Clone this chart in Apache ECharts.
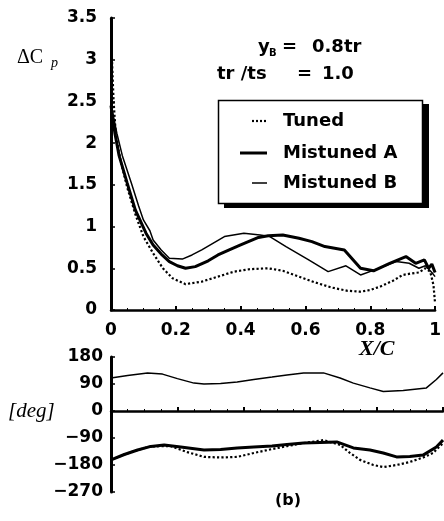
<!DOCTYPE html>
<html>
<head>
<meta charset="utf-8">
<script src="https://cdn.jsdelivr.net/npm/echarts@6/dist/echarts.min.js"></script>
<style>
html,body{margin:0;padding:0;background:#fff;}
#c{width:444px;height:521px;}
</style>
</head>
<body>
<div id="c"></div>
<script>
// ---- Data ----
const seriesNames = ['Tuned', 'Mistuned A', 'Mistuned B'];
const xTicks = [0, 0.2, 0.4, 0.6, 0.8, 1];
const cpTicks = [0, 0.5, 1, 1.5, 2, 2.5, 3, 3.5];
const phaseTicks = [-270, -180, -90, 0, 90, 180];

// Delta Cp, top panel
const xCpTuned = [0, 0.003, 0.008, 0.015, 0.03, 0.05, 0.075, 0.10, 0.13, 0.16, 0.19, 0.23, 0.28, 0.33, 0.38, 0.43, 0.485, 0.53, 0.58, 0.63, 0.68, 0.73, 0.77, 0.80, 0.83, 0.87, 0.90, 0.93, 0.95, 0.97, 0.985, 0.995, 1.0];
const cpTuned  = [3.5, 3.0, 2.5, 2.1, 1.78, 1.47, 1.15, 0.88, 0.68, 0.50, 0.38, 0.31, 0.34, 0.40, 0.46, 0.49, 0.50, 0.47, 0.40, 0.33, 0.27, 0.23, 0.22, 0.24, 0.28, 0.35, 0.42, 0.44, 0.45, 0.50, 0.46, 0.30, 0.08];

const xCpA = [0, 0.005, 0.012, 0.025, 0.05, 0.075, 0.108, 0.13, 0.155, 0.18, 0.205, 0.23, 0.26, 0.30, 0.33, 0.37, 0.40, 0.455, 0.485, 0.53, 0.58, 0.62, 0.66, 0.72, 0.77, 0.81, 0.86, 0.91, 0.94, 0.967, 0.98, 0.99, 1.0];
const cpA  = [2.45, 2.3, 2.12, 1.85, 1.52, 1.2, 0.92, 0.78, 0.67, 0.58, 0.53, 0.50, 0.52, 0.59, 0.66, 0.73, 0.78, 0.87, 0.89, 0.90, 0.86, 0.82, 0.76, 0.72, 0.50, 0.47, 0.56, 0.64, 0.56, 0.60, 0.50, 0.55, 0.45];

const xCpB = [0, 0.006, 0.018, 0.035, 0.063, 0.085, 0.10, 0.12, 0.13, 0.155, 0.18, 0.22, 0.25, 0.28, 0.35, 0.41, 0.46, 0.49, 0.54, 0.61, 0.67, 0.725, 0.77, 0.82, 0.88, 0.92, 0.95, 0.97, 0.99, 1.0];
const cpB  = [2.5, 2.35, 2.12, 1.85, 1.52, 1.25, 1.08, 0.95, 0.84, 0.72, 0.62, 0.61, 0.66, 0.72, 0.88, 0.92, 0.90, 0.88, 0.76, 0.60, 0.46, 0.53, 0.42, 0.49, 0.58, 0.56, 0.50, 0.53, 0.45, 0.40];

// Phase [deg], bottom panel
const xPhTuned = [0, 0.04, 0.08, 0.12, 0.18, 0.23, 0.28, 0.33, 0.38, 0.43, 0.485, 0.53, 0.58, 0.64, 0.69, 0.72, 0.75, 0.79, 0.82, 0.86, 0.90, 0.94, 0.97, 1.0];
const phTuned  = [-163, -145, -130, -118, -117, -137, -153, -155, -153, -140, -127, -117, -107, -97, -113, -140, -163, -180, -187, -180, -170, -155, -140, -107];

const xPhA = [0, 0.04, 0.08, 0.12, 0.16, 0.21, 0.28, 0.33, 0.38, 0.43, 0.485, 0.53, 0.58, 0.63, 0.68, 0.73, 0.78, 0.82, 0.86, 0.90, 0.94, 0.98, 1.0];
const phA  = [-163, -145, -130, -118, -113, -120, -130, -128, -123, -120, -117, -112, -107, -105, -103, -123, -130, -140, -153, -152, -147, -120, -97];

const xPhB = [0, 0.05, 0.11, 0.155, 0.2, 0.25, 0.28, 0.33, 0.38, 0.43, 0.485, 0.53, 0.58, 0.64, 0.69, 0.73, 0.78, 0.82, 0.88, 0.95, 0.98, 1.0];
const phB  = [110, 118, 127, 123, 108, 93, 90, 92, 97, 105, 113, 120, 127, 127, 110, 93, 77, 65, 68, 77, 105, 127];

// ---- Helpers ----
const zip = (xs, ys) => xs.map((x, i) => [x, ys[i]]);
const FONT = 'DejaVu Sans';
const SERIF = 'Liberation Serif';
const lblStyle = {color: '#000', fontFamily: FONT, fontWeight: 'bold', fontSize: 17};

const styles = {
  'Tuned':      {type: 'dotted', width: 2.2},
  'Mistuned A': {type: 'solid',  width: 3},
  'Mistuned B': {type: 'solid',  width: 1.5}
};
function mk(name, data, gi) {
  return {
    name: name, type: 'line', data: data, xAxisIndex: gi, yAxisIndex: gi,
    showSymbol: false, symbol: 'none', smooth: false, silent: true, animation: false,
    lineStyle: Object.assign({color: '#000'}, styles[name]),
    itemStyle: {color: '#000'}
  };
}

// legend drawn as graphic (box with drop shadow, line samples, labels)
const legendRows = [
  {name: seriesNames[0], y: 121, x1: 252, x2: 266},
  {name: seriesNames[1], y: 153, x1: 240, x2: 267},
  {name: seriesNames[2], y: 183, x1: 252, x2: 267}
];
const legendGraphics = [
  {type: 'rect', shape: {x: 224, y: 104, width: 205, height: 104}, style: {fill: '#000'}, silent: true},
  {type: 'rect', shape: {x: 218.5, y: 100.5, width: 204, height: 103}, style: {fill: '#fff', stroke: '#000', lineWidth: 1.5}, silent: true}
];
legendRows.forEach(r => {
  const st = styles[r.name];
  legendGraphics.push({type: 'line', shape: {x1: r.x1, y1: r.y, x2: r.x2, y2: r.y},
    style: {stroke: '#000', lineWidth: st.width, lineDash: st.type === 'dotted' ? [2, 2] : null}, silent: true});
  legendGraphics.push({type: 'text', x: 283, y: r.y, style: {text: r.name, font: 'bold 18px ' + FONT, fill: '#000', textVerticalAlign: 'middle', verticalAlign: 'middle'}, silent: true});
});

const chart = echarts.init(document.getElementById('c'), null, {renderer: 'canvas'});
chart.setOption({
  animation: false,
  backgroundColor: '#fff',
  grid: [
    {left: 111, top: 18, width: 332, height: 292},
    {left: 111, top: 357, width: 332, height: 135}
  ],
  xAxis: [
    {gridIndex: 0, type: 'value', min: xTicks[0], max: xTicks[xTicks.length - 1], interval: 0.2,
     axisLine: {lineStyle: {color: '#000', width: 2.5}},
     axisTick: {inside: true, length: 4, lineStyle: {color: '#000', width: 2}},
     minorTick: {show: true, splitNumber: 4, length: 2, lineStyle: {color: '#000'}},
     splitLine: {show: false},
     axisLabel: Object.assign({margin: 12, showMaxLabel: true}, lblStyle)},
    {gridIndex: 1, type: 'value', min: xTicks[0], max: xTicks[xTicks.length - 1], interval: 0.2,
     axisLine: {onZero: true, lineStyle: {color: '#000', width: 2.5}},
     axisTick: {inside: true, length: 4, lineStyle: {color: '#000', width: 2}},
     minorTick: {show: true, splitNumber: 4, length: 2, lineStyle: {color: '#000'}},
     splitLine: {show: false},
     axisLabel: {show: false}}
  ],
  yAxis: [
    {gridIndex: 0, type: 'value', min: cpTicks[0], max: cpTicks[cpTicks.length - 1], interval: 0.5,
     axisLine: {show: true, onZero: false, lineStyle: {color: '#000', width: 3}},
     axisTick: {show: true, inside: true, length: 4, lineStyle: {color: '#000', width: 1.5}},
     minorTick: {show: true, splitNumber: 4, length: 2, lineStyle: {color: '#000'}},
     splitLine: {show: false},
     axisLabel: Object.assign({margin: 14}, lblStyle)},
    {gridIndex: 1, type: 'value', min: phaseTicks[0], max: phaseTicks[phaseTicks.length - 1], interval: 90,
     axisLine: {show: true, onZero: false, lineStyle: {color: '#000', width: 3}},
     axisTick: {show: true, inside: true, length: 4, lineStyle: {color: '#000', width: 1.5}},
     minorTick: {show: true, splitNumber: 3, length: 2, lineStyle: {color: '#000'}},
     splitLine: {show: false},
     axisLabel: Object.assign({margin: 8, formatter: v => String(v).replace('-', '\u2212')}, lblStyle)}
  ],
  legend: {show: false, data: seriesNames},
  graphic: legendGraphics.concat([
    {type: 'text', left: 17, top: 48, style: {text: '\u0394C', font: '20px ' + SERIF, fill: '#000'}},
    {type: 'text', left: 51, top: 56, style: {text: 'p', font: 'italic 14px ' + SERIF, fill: '#000'}},
    {type: 'text', left: 8, top: 401, style: {text: '[deg]', font: 'italic 21px ' + SERIF, fill: '#000'}},
    {type: 'text', left: 359, top: 338, style: {text: 'X/C', font: 'italic bold 22px ' + SERIF, fill: '#000'}},
    {type: 'text', left: 275, top: 493, style: {text: '(b)', font: 'bold 16px ' + FONT, fill: '#000'}},
    {type: 'text', left: 258, top: 38, style: {text: 'y', font: 'bold 18px ' + FONT, fill: '#000'}},
    {type: 'text', left: 269, top: 48, style: {text: 'B', font: 'bold 10px ' + FONT, fill: '#000'}},
    {type: 'text', left: 282, top: 38, style: {text: '=', font: 'bold 18px ' + FONT, fill: '#000'}},
    {type: 'text', left: 312, top: 38, style: {text: '0.8tr', font: 'bold 18px ' + FONT, fill: '#000'}},
    {type: 'text', left: 217, top: 65, style: {text: 'tr /ts', font: 'bold 18px ' + FONT, fill: '#000'}},
    {type: 'text', left: 297, top: 65, style: {text: '=', font: 'bold 18px ' + FONT, fill: '#000'}},
    {type: 'text', left: 322, top: 65, style: {text: '1.0', font: 'bold 18px ' + FONT, fill: '#000'}}
  ]),
  series: [
    mk('Tuned', zip(xCpTuned, cpTuned), 0),
    mk('Mistuned A', zip(xCpA, cpA), 0),
    mk('Mistuned B', zip(xCpB, cpB), 0),
    mk('Tuned', zip(xPhTuned, phTuned), 1),
    mk('Mistuned A', zip(xPhA, phA), 1),
    mk('Mistuned B', zip(xPhB, phB), 1)
  ]
});
</script>
</body>
</html>
